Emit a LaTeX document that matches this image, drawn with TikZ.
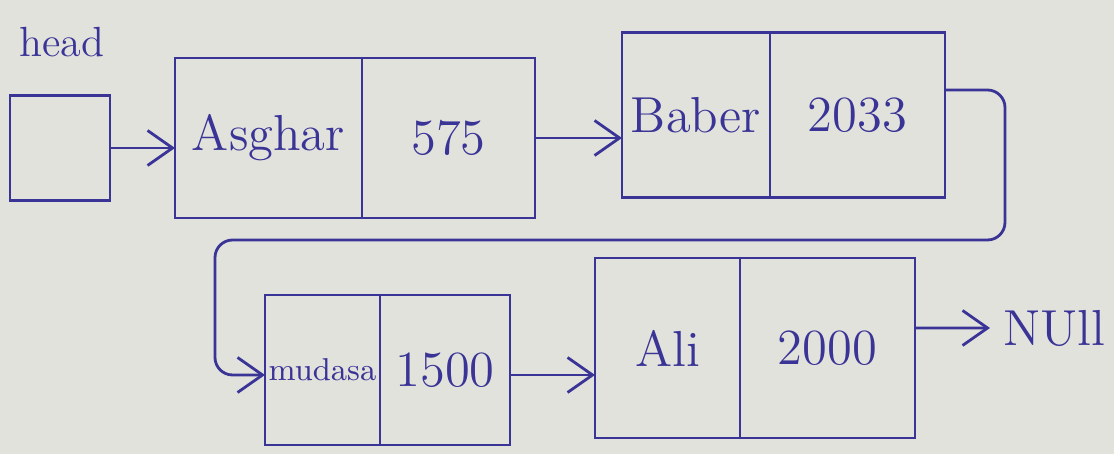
\documentclass[tikz,border=0pt]{standalone}
\usepackage{tikz}
\usetikzlibrary{arrows.meta,positioning}
\definecolor{ink}{RGB}{58,52,150}
\definecolor{paper}{RGB}{226,226,221}

\begin{document}
\begin{tikzpicture}[font=\Large, ink, line width=0.8pt,
  cell/.style={draw=ink, text=ink, minimum height=#1, inner sep=1pt, outer sep=0pt},
  cell/.default=16mm, >={Straight Barb[length=2.5mm, width=3.5mm]}]
\fill[paper] (0,0) rectangle (11.14,-4.54);
\useasboundingbox (0,0) rectangle (11.14,-4.54);
\node[text=ink, font=\large] (lbl) at (0.62,-0.42) {head};
\node[cell=10.5mm, minimum width=10mm] (head) at (0.60,-1.48) {};
\node[cell, minimum width=18.7mm] (d1) at (2.685,-1.38) {Asghar};
\node[cell, minimum width=17.3mm, right=0pt of d1] (n1) {575};
\node[cell=16.5mm, minimum width=14.8mm] (d2) at (6.96,-1.15) {Baber};
\node[cell=16.5mm, minimum width=17.5mm, right=0pt of d2] (n2) {2033};
\node[cell=15mm, minimum width=11.5mm, font=\small] (d3) at (3.225,-3.70) {mudasa};
\node[cell=15mm, minimum width=13mm, right=0pt of d3] (n3) {1500};
\node[cell=18mm, minimum width=14.5mm] (d4) at (6.675,-3.48) {Ali};
\node[cell=18mm, minimum width=17.5mm, right=0pt of d4] (n4) {2000};
\node[text=ink, anchor=west] (null) at (9.90,-3.28) {NUll};
\coordinate (bend) at (10.05,-2.40);
\coordinate (back) at (2.15,-2.40);
\draw[->] (head.east) -- (head.east -| d1.west);
\draw[->] (n1.east) -- (n1.east -| d2.west);
\draw[->, rounded corners=5pt] ([yshift=2.5mm]n2.east) -| (bend) -- (back) |- ([yshift=-0.5mm]d3.west);
\draw[->] ([yshift=-0.5mm]n3.east) -- ([yshift=-0.5mm]n3.east -| d4.west);
\draw[->] ([yshift=2mm]n4.east) -- (null);
\end{tikzpicture}
\end{document}
